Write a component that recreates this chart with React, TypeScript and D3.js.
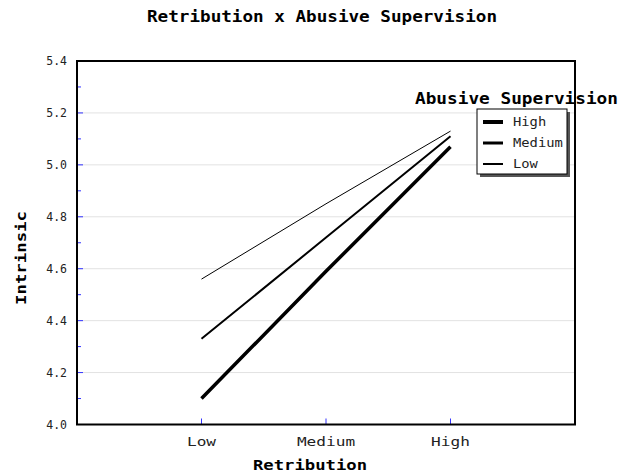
import React from "react";
import * as d3 from "d3";

const categories = ["Low", "Medium", "High"];
const seriesNames = ["High", "Medium", "Low"];
const highValues = [4.10, 4.59, 5.07];
const mediumValues = [4.33, 4.72, 5.11];
const lowValues = [4.56, 4.85, 5.13];
const yTicks = [4.0, 4.2, 4.4, 4.6, 4.8, 5.0, 5.2, 5.4];
const yMinorTicks = [4.1, 4.3, 4.5, 4.7, 4.9, 5.1, 5.3];

const W = 620, H = 473;
const left = 77, right = 575, top = 61, bottom = 424.5;
const FONT = "'DejaVu Sans Mono', 'Liberation Mono', monospace";

export default function App() {
  const x = d3.scaleLinear().domain([0, 4]).range([left, right]);
  const y = d3.scaleLinear().domain([4.0, 5.4]).range([bottom, top]);
  const series = [highValues, mediumValues, lowValues];
  const widths = [3.5, 2, 1];
  const legendWidths = [4, 3, 2];
  const line = d3
    .line<number>()
    .x((_, i) => x(i + 1))
    .y((d) => y(d));

  return (
    <svg
      width={W}
      height={H}
      style={{ position: "absolute", left: 0, top: 0, background: "#fff" }}
      fontFamily={FONT}
    >
      <rect x={0} y={0} width={W} height={H} fill="#fff" />
      <text x={322} y={22} textAnchor="middle" fontSize={15} fontWeight="bold" textLength={350} lengthAdjust="spacingAndGlyphs">
        Retribution x Abusive Supervision
      </text>
      {/* gridlines */}
      {yTicks.slice(1, -1).map((t) => (
        <line key={"g" + t} x1={left} x2={right} y1={y(t)} y2={y(t)} stroke="#e2e2e2" strokeWidth={1} />
      ))}
      {/* y ticks */}
      {yTicks.map((t) => (
        <g key={"yt" + t}>
          <line x1={left} x2={left + 6} y1={y(t)} y2={y(t)} stroke="#3333ff" strokeWidth={1} />
          <text x={67} y={y(t) + 4} textAnchor="end" fontSize={11.5} fill="#222">
            {t.toFixed(1)}
          </text>
        </g>
      ))}
      {yMinorTicks.map((t) => (
        <line key={"ym" + t} x1={left} x2={left + 4} y1={y(t)} y2={y(t)} stroke="#3333ff" strokeWidth={1} />
      ))}
      {/* x ticks */}
      {categories.map((c, i) => (
        <g key={"xt" + c}>
          <line x1={x(i + 1)} x2={x(i + 1)} y1={bottom} y2={bottom - 6} stroke="#3333ff" strokeWidth={1} />
          <text x={x(i + 1)} y={446} textAnchor="middle" fontSize={13} fill="#222" textLength={c.length * 9.7} lengthAdjust="spacingAndGlyphs">
            {c}
          </text>
        </g>
      ))}
      {/* series lines */}
      {series.map((s, k) => (
        <path key={"s" + k} d={line(s) || ""} fill="none" stroke="#000" strokeWidth={widths[k]} />
      ))}
      {/* frame */}
      <rect x={left} y={top} width={right - left} height={bottom - top} fill="none" stroke="#000" strokeWidth={2} />
      {/* axis titles */}
      <text x={310} y={470} textAnchor="middle" fontSize={14} fontWeight="bold" textLength={114} lengthAdjust="spacingAndGlyphs">
        Retribution
      </text>
      <text
        transform={`translate(26, 258) rotate(-90)`}
        textAnchor="middle"
        fontSize={14}
        fontWeight="bold"
        textLength={94}
        lengthAdjust="spacingAndGlyphs"
      >
        Intrinsic
      </text>
      {/* legend */}
      <text x={415} y={104} fontSize={15} fontWeight="bold" textLength={203} lengthAdjust="spacingAndGlyphs">
        Abusive Supervision
      </text>
      <rect x={480} y={112} width={90} height={65} fill="#555" />
      <rect x={477} y={109} width={90} height={65} fill="#fff" stroke="#000" strokeWidth={1} />
      {seriesNames.map((n, k) => {
        const ly = 122 + k * 21;
        return (
          <g key={"l" + n}>
            <line x1={483} x2={503} y1={ly} y2={ly} stroke="#000" strokeWidth={legendWidths[k]} />
            <text x={513} y={ly + 4} fontSize={12} fill="#222" textLength={n.length * 8.3} lengthAdjust="spacingAndGlyphs">
              {n}
            </text>
          </g>
        );
      })}
    </svg>
  );
}
